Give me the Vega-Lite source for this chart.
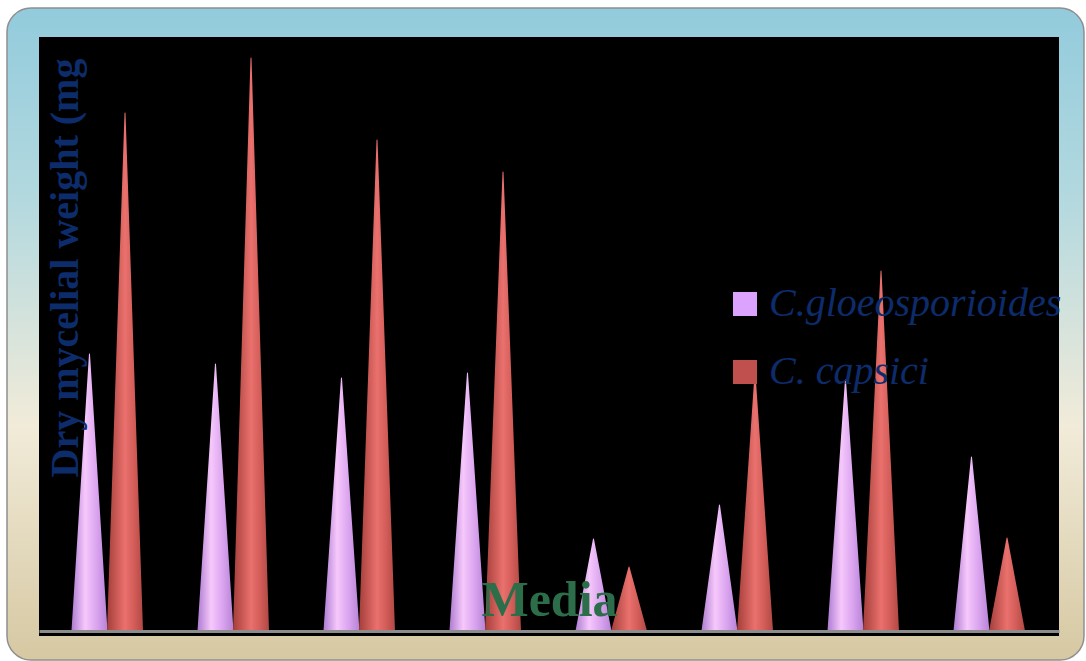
{
  "$schema": "https://vega.github.io/schema/vega-lite/v6.json",
  "width": 1020,
  "height": 594,
  "autosize": {"type": "none"},
  "padding": {"left": 39, "top": 37, "right": 27, "bottom": 30},
  "background": "#ffffff",
  "config": {"view": {"stroke": null}},
  "resolve": {"scale": {"x": "independent", "y": "independent"}},
  "layer": [
    {
      "data": {"values": [{"panel": "frame"}]},
      "layer": [
        {
          "mark": {
            "type": "rect",
            "cornerRadius": 24,
            "stroke": "#8f8f8f",
            "strokeWidth": 1.5,
            "fill": {
              "gradient": "linear", "x1": 0, "y1": 0, "x2": 0, "y2": 1,
              "stops": [
                {"offset": 0, "color": "#92cbdc"},
                {"offset": 0.3, "color": "#b4d9df"},
                {"offset": 0.64, "color": "#f1ebd9"},
                {"offset": 1, "color": "#d6c8a2"}
              ]
            }
          },
          "encoding": {
            "x": {"datum": -3.137, "type": "quantitative", "scale": {"domain": [0, 100], "nice": false, "zero": false}, "axis": null},
            "x2": {"datum": 102.45},
            "y": {"datum": 104.88, "type": "quantitative", "scale": {"domain": [0, 100], "nice": false, "zero": false}, "axis": null},
            "y2": {"datum": -4.9}
          }
        },
        {
          "mark": {"type": "rect", "fill": "#000000"},
          "encoding": {
            "x": {"datum": 0, "type": "quantitative", "scale": {"domain": [0, 100], "nice": false, "zero": false}, "axis": null},
            "x2": {"datum": 100},
            "y": {"datum": 100, "type": "quantitative", "scale": {"domain": [0, 100], "nice": false, "zero": false}, "axis": null},
            "y2": {"datum": -0.842}
          }
        }
      ]
    },
    {
      "data": {
        "values": [
          {"media": "Medium 1", "species": "C.gloeosporioides", "base": 0, "weight": 2.77},
          {"media": "Medium 1", "species": "C. capsici", "base": 0, "weight": 5.18},
          {"media": "Medium 2", "species": "C.gloeosporioides", "base": 0, "weight": 2.67},
          {"media": "Medium 2", "species": "C. capsici", "base": 0, "weight": 5.73},
          {"media": "Medium 3", "species": "C.gloeosporioides", "base": 0, "weight": 2.53},
          {"media": "Medium 3", "species": "C. capsici", "base": 0, "weight": 4.91},
          {"media": "Medium 4", "species": "C.gloeosporioides", "base": 0, "weight": 2.58},
          {"media": "Medium 4", "species": "C. capsici", "base": 0, "weight": 4.59},
          {"media": "Medium 5", "species": "C.gloeosporioides", "base": 0, "weight": 0.92},
          {"media": "Medium 5", "species": "C. capsici", "base": 0, "weight": 0.64},
          {"media": "Medium 6", "species": "C.gloeosporioides", "base": 0, "weight": 1.26},
          {"media": "Medium 6", "species": "C. capsici", "base": 0, "weight": 2.57},
          {"media": "Medium 7", "species": "C.gloeosporioides", "base": 0, "weight": 2.51},
          {"media": "Medium 7", "species": "C. capsici", "base": 0, "weight": 3.60},
          {"media": "Medium 8", "species": "C.gloeosporioides", "base": 0, "weight": 1.74},
          {"media": "Medium 8", "species": "C. capsici", "base": 0, "weight": 0.93}
        ]
      },
      "encoding": {
        "x": {
          "field": "media", "type": "nominal", "sort": null,
          "scale": {"type": "band", "paddingInner": 0, "paddingOuter": 0.0476},
          "axis": {
            "labels": false, "ticks": false, "grid": false,
            "domain": true, "domainColor": "#8c8c8c", "domainWidth": 3,
            "zindex": 1,
            "title": "Media",
            "titleFont": "Liberation Serif", "titleFontSize": 50, "titleFontWeight": "bold",
            "titleColor": "#2c6e49", "titleY": -16, "titleBaseline": "alphabetic"
          }
        }
      },
      "layer": [
        {
          "transform": [
            {"filter": "datum.species === 'C.gloeosporioides'"},
            {"fold": ["base", "weight"], "as": ["end", "value"]}
          ],
          "mark": {
            "type": "trail", "clip": true, "opacity": 1,
            "fill": {
              "gradient": "linear", "x1": 0, "y1": 0, "x2": 1, "y2": 0,
              "stops": [
                {"offset": 0, "color": "#ad7bd1"},
                {"offset": 0.38, "color": "#f6c8fb"},
                {"offset": 0.7, "color": "#daa4ef"},
                {"offset": 1, "color": "#b683d6"}
              ]
            }
          },
          "encoding": {
            "x": {"field": "media", "type": "nominal", "sort": null, "bandPosition": 0.353},
            "y": {
              "field": "value", "type": "quantitative",
              "scale": {"domain": [0, 5.94], "nice": false},
              "axis": {
                "labels": false, "ticks": false, "domain": false, "grid": false,
                "zindex": 1,
                "title": "Dry mycelial weight (mg",
                "titleFont": "Liberation Serif", "titleFontSize": 40, "titleFontWeight": "bold",
                "titleColor": "#0d2c6c", "titleX": 38, "titleY": 230.5,
                "titleAngle": -90, "titleAlign": "center", "titleBaseline": "alphabetic"
              }
            },
            "size": {"condition": {"test": "datum.end === 'base'", "value": 36}, "value": 0},
            "order": {"field": "end", "type": "nominal"},
            "detail": {"field": "media", "type": "nominal"}
          }
        },
        {
          "transform": [
            {"filter": "datum.species === 'C. capsici'"},
            {"fold": ["base", "weight"], "as": ["end", "value"]}
          ],
          "mark": {
            "type": "trail", "clip": true, "opacity": 1,
            "fill": {
              "gradient": "linear", "x1": 0, "y1": 0, "x2": 1, "y2": 0,
              "stops": [
                {"offset": 0, "color": "#a43e3a"},
                {"offset": 0.5, "color": "#ea716d"},
                {"offset": 0.75, "color": "#d35d59"},
                {"offset": 1, "color": "#b04844"}
              ]
            }
          },
          "encoding": {
            "x": {"field": "media", "type": "nominal", "sort": null, "bandPosition": 0.635},
            "y": {"field": "value", "type": "quantitative"},
            "size": {"condition": {"test": "datum.end === 'base'", "value": 36}, "value": 0},
            "order": {"field": "end", "type": "nominal"},
            "detail": {"field": "media", "type": "nominal"}
          }
        },
        {
          "mark": {"type": "bar"},
          "encoding": {
            "y": {"datum": 0, "type": "quantitative"},
            "y2": {"datum": 0},
            "fill": {
              "field": "species", "type": "nominal",
              "scale": {"domain": ["C.gloeosporioides", "C. capsici"], "range": ["#dba3fd", "#c0504d"]},
              "legend": {
                "orient": "none", "legendX": 686, "legendY": 247,
                "title": null, "padding": 0,
                "symbolType": "square", "symbolSize": 576, "symbolStrokeWidth": 0, "symbolOpacity": 1,
                "labelFont": "Liberation Serif", "labelFontStyle": "italic", "labelFontSize": 40,
                "labelColor": "#0d2c6c", "labelOffset": 4, "labelLimit": 500,
                "rowPadding": 28
              }
            }
          }
        }
      ]
    }
  ]
}
